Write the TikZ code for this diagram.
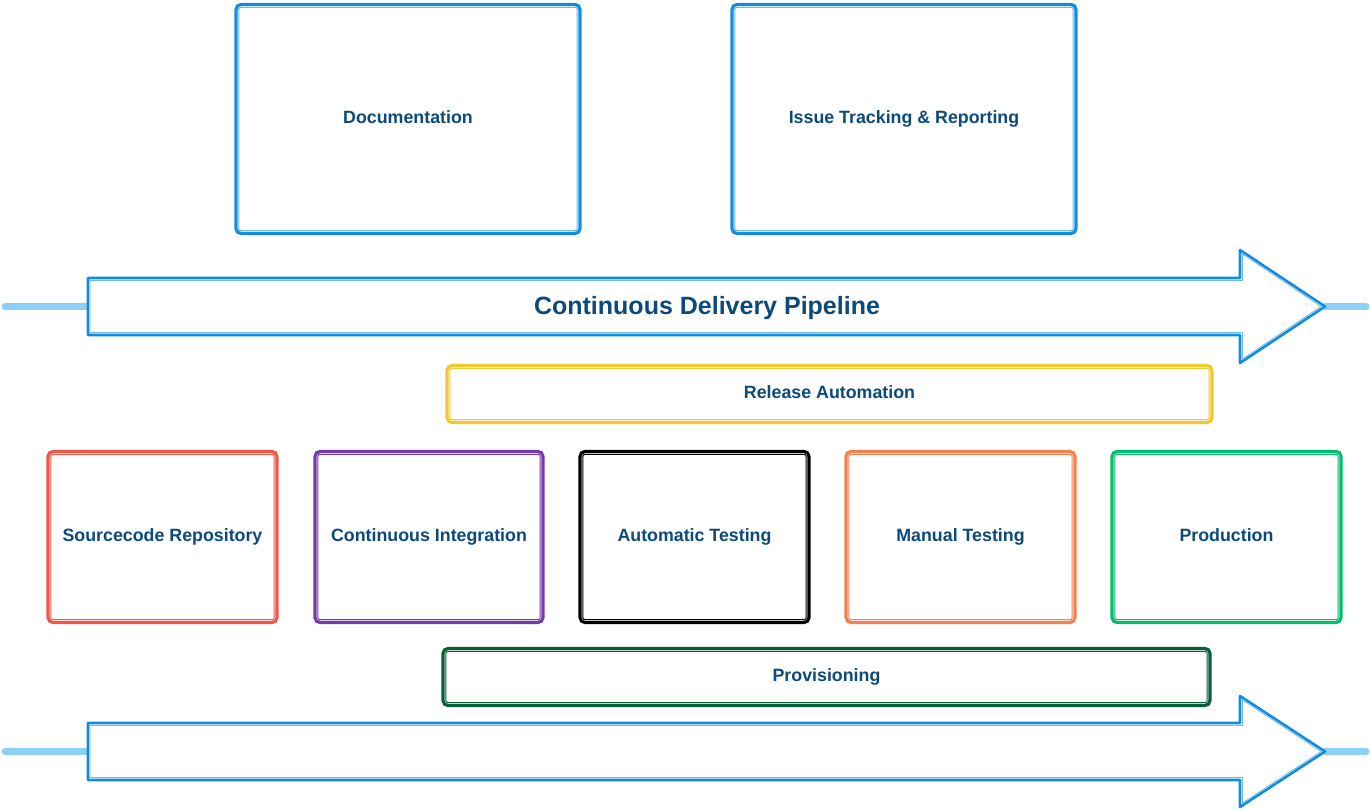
\documentclass[tikz,border=0pt]{standalone}
\usepackage{fontspec}
\setmainfont{Liberation Sans}
\definecolor{cblue}{RGB}{20,140,220}
\definecolor{cbluel}{RGB}{110,185,238}
\definecolor{clight}{RGB}{140,208,250}
\definecolor{ctext}{RGB}{12,74,124}
\definecolor{cred}{RGB}{240,86,72}
\definecolor{cpurple}{RGB}{118,58,168}
\definecolor{cblack}{RGB}{0,0,0}
\definecolor{corange}{RGB}{245,128,77}
\definecolor{cgreen}{RGB}{0,190,110}
\definecolor{cyellow}{RGB}{242,200,48}
\definecolor{cdgreen}{RGB}{8,94,56}
\begin{document}
\begin{tikzpicture}[x=1pt,y=-1pt,
  lbl/.style={font=\bfseries\fontsize{17.8}{20}\selectfont, text=ctext, text height=13pt, text depth=4pt},
  box/.style={draw=#1, line width=3.2pt, rounded corners=5pt, lbl, inner sep=0pt, fill=white},
  inner/.style={draw=#1, line width=1pt, rounded corners=2pt},
  feed/.style={draw=clight, line width=7pt, line cap=round},
  pipe/.style={draw=cblue, line width=2.6pt, fill=white, line join=round},
  pipein/.style={draw=cbluel, line width=0.8pt, line join=round}]
\useasboundingbox (0,0) rectangle (1371,810);

% top boxes
\node[box=cblue, minimum width=344pt, minimum height=229pt] (doc) at (408,119) {Documentation};
\node[box=cblue, minimum width=344pt, minimum height=229pt] (issue) at (904,119) {Issue Tracking \& Reporting};

% top pipeline arrow
\coordinate (tl) at (5,306.5);
\coordinate (tin) at (88,306.5);
\coordinate (ttip) at (1325,306.5);
\coordinate (tr) at (1366,306.5);
\draw[feed] (tl) -- (tin);
\draw[feed] (ttip) -- (tr);
\draw[pipe] (88,278) -- (1240,278) -- (1240,250) -- (ttip) -- (1240,363) -- (1240,335) -- (88,335) -- cycle;
\draw[pipein] (90,280.5) -- (1242.5,280.5) -- (1242.5,254) -- (1321,306.5) -- (1242.5,359) -- (1242.5,332.5) -- (90,332.5) -- cycle;
\node[font=\bfseries\fontsize{25}{28}\selectfont, text=ctext] (title) at (707,308) {Continuous Delivery Pipeline};

% release automation
\node[box=cyellow, minimum width=765pt, minimum height=57pt] (rel) at (829.5,394) {Release Automation};

% row of stages
\node[box=cred, minimum width=229pt, minimum height=171pt] (src) at (162.5,537) {Sourcecode Repository};
\node[box=cpurple, minimum width=228pt, minimum height=171pt] (ci) at (429,537) {Continuous Integration};
\node[box=cblack, minimum width=229pt, minimum height=171pt] (auto) at (694.5,537) {Automatic Testing};
\node[box=corange, minimum width=229pt, minimum height=171pt] (man) at (960.5,537) {Manual Testing};
\node[box=cgreen, minimum width=229pt, minimum height=171pt] (prod) at (1226.5,537) {Production};

% provisioning
\node[box=cdgreen, minimum width=767pt, minimum height=57pt] (prov) at (826.5,677) {Provisioning};

% bottom pipeline arrow
\coordinate (bl) at (5,751.5);
\coordinate (bin) at (88,751.5);
\coordinate (btip) at (1325,751.5);
\coordinate (br) at (1366,751.5);
\draw[feed] (bl) -- (bin);
\draw[feed] (btip) -- (br);
\draw[pipe] (88,723) -- (1240,723) -- (1240,696) -- (btip) -- (1240,807) -- (1240,780) -- (88,780) -- cycle;
\draw[pipein] (90,725.5) -- (1242.5,725.5) -- (1242.5,700) -- (1321,751.5) -- (1242.5,803) -- (1242.5,777.5) -- (90,777.5) -- cycle;

% inner sketch lines
\foreach \n/\c in {doc/cbluel,issue/cbluel,rel/cyellow,src/cred,ci/cpurple,auto/cblack,man/corange,prod/cgreen,prov/cdgreen}
  \draw[inner=\c] ([shift={(4.5,4.5)}]\n.north west) rectangle ([shift={(-4.5,-4.5)}]\n.south east);
\end{tikzpicture}
\end{document}
